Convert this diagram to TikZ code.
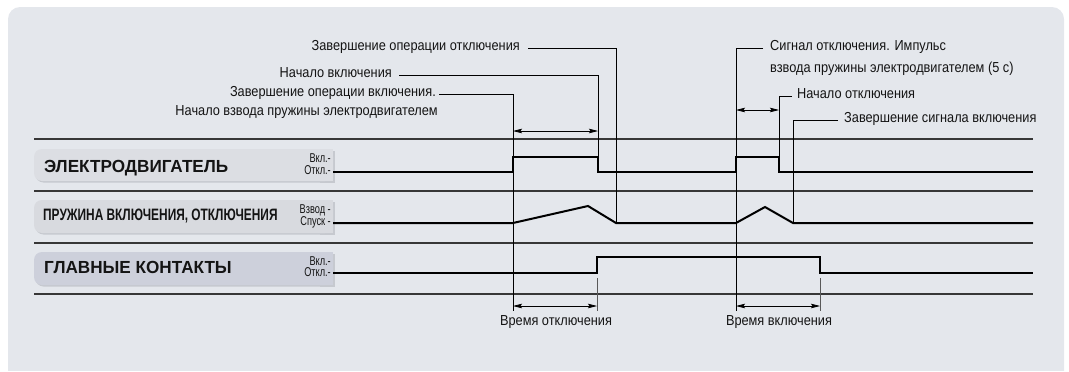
\documentclass[tikz,border=0pt]{standalone}
\usepackage{fontspec}
\usetikzlibrary{arrows.meta}
\setmainfont{Liberation Sans}
\newfontfamily\lblfont[FakeStretch=0.88]{Liberation Sans}
\newfontfamily\ttlfont[FakeStretch=0.98]{Liberation Sans}
\newfontfamily\ttlcnfont[FakeStretch=0.72]{Liberation Sans}
\newfontfamily\smfont[FakeStretch=0.72]{Liberation Sans}
\definecolor{bg}{HTML}{E4E7EC}
\definecolor{boxa}{HTML}{DCDEE3}
\definecolor{boxb}{HTML}{D8DADF}
\definecolor{boxc}{HTML}{CDD0DB}
\definecolor{shad}{HTML}{C6C9CF}
\definecolor{ink}{HTML}{141414}
\tikzset{
  gridline/.style={line width=1.1pt, draw=ink!85},
  sigline/.style={line width=2pt, draw=black, line join=miter},
  vline/.style={line width=0.9pt, draw=black},
  leader/.style={line width=0.9pt, draw=black},
  extline/.style={line width=0.9pt, draw=black!65},
  dimline/.style={line width=0.75pt, draw=black, {Stealth[length=9pt,width=4.5pt,inset=1.5pt]}-{Stealth[length=9pt,width=4.5pt,inset=1.5pt]}},
  txt/.style={font=\lblfont\fontsize{14.5}{16}\selectfont, inner sep=0pt, text=ink},
  smtxt/.style={font=\smfont\fontsize{12.8}{13}\selectfont, inner sep=0pt, text=ink, anchor=mid east},
  ttl/.style={font=\ttlfont\bfseries\fontsize{17.5}{19}\selectfont, inner sep=0pt, text=ink, anchor=mid west},
  ttlcn/.style={font=\ttlcnfont\bfseries\fontsize{16.5}{18}\selectfont, inner sep=0pt, text=ink, anchor=mid west},
}
\begin{document}
\begin{tikzpicture}[x=1pt,y=-1pt]
\useasboundingbox (0,0) rectangle (1069,372);
% background panel
\fill[bg, rounded corners=12pt] (8,7) rectangle (1064,390);
\fill[white] (0,371) rectangle (1069,372);
% label boxes
\foreach \ya/\yb/\col in {149/181/boxa, 200/233/boxb, 252/285/boxc}{
  \fill[shad, rounded corners=8pt] (35.5,\ya+1.5) rectangle (334.5,\yb+1.5);
  \fill[shad] (320,\ya+1.5) rectangle (334.5,\yb+1.5);
  \fill[\col, rounded corners=8pt] (34,\ya) rectangle (333,\yb);
  \fill[\col] (318,\ya) rectangle (333,\yb);
}
% grid lines
\foreach \y in {139,191,243,294}{
  \draw[gridline] (34,\y) -- (1033,\y);
}
% titles
\node[ttl] (motor) at (44,169.8) {ЭЛЕКТРОДВИГАТЕЛЬ};
\node[ttlcn] (spring) at (43,217.6) {ПРУЖИНА ВКЛЮЧЕНИЯ, ОТКЛЮЧЕНИЯ};
\node[ttl] (contacts) at (44,270.6) {ГЛАВНЫЕ КОНТАКТЫ};
% level labels
\node[smtxt] (mon) at (331,160) {Вкл.-};
\node[smtxt] (moff) at (331,171.5) {Откл.-};
\node[smtxt] (scock) at (331,211) {Взвод -};
\node[smtxt] (srel) at (331,222.5) {Спуск -};
\node[smtxt] (con) at (331,262.5) {Вкл.-};
\node[smtxt] (coff) at (331,274) {Откл.-};
% signals
\draw[sigline] (333,172) -- (513,172) -- (513,157) -- (598,157) -- (598,172)
  -- (736,172) -- (736,157) -- (779,157) -- (779,172) -- (1033,172);
\draw[sigline] (333,223) -- (513,223) -- (588,206) -- (616,223)
  -- (736,223) -- (765,207) -- (793,223) -- (1033,223);
\draw[sigline] (333,273) -- (597,273) -- (597,257) -- (820,257) -- (820,273) -- (1033,273);
% top-left labels
\node[txt, anchor=mid east] (endoff) at (520,48) {Завершение операции отключения};
\node[txt, anchor=mid east] (starton) at (392,75) {Начало включения};
\node[txt, anchor=mid east] (endon) at (436,94) {Завершение операции включения.};
\node[txt, anchor=mid east] (startcock) at (438,113) {Начало взвода пружины электродвигателем};
% top-right labels
\node[txt, anchor=mid west] (sigoff) at (770,48) {Сигнал отключения. Импульс};
\node[txt, anchor=mid west] (sigoffb) at (770,70) {взвода пружины электродвигателем (5 с)};
\node[txt, anchor=mid west] (startoff) at (797,96) {Начало отключения};
\node[txt, anchor=mid west] (endsig) at (844,120) {Завершение сигнала включения};
% bottom labels
\node[txt, anchor=mid] (toff) at (556,323) {Время отключения};
\node[txt, anchor=mid] (ton) at (779,323) {Время включения};
% coordinates for verticals
\coordinate (a1) at (513,94);  \coordinate (a2) at (513,311);
\coordinate (b1) at (598,75);  \coordinate (b2) at (598,172);
\coordinate (c1) at (616,48);  \coordinate (c2) at (616,223);
\coordinate (d1) at (736,48);  \coordinate (d2) at (736,311);
\coordinate (e1) at (779,96);  \coordinate (e2) at (779,172);
\coordinate (f1) at (793,120); \coordinate (f2) at (793,223);
% leaders and verticals
\draw[leader] ([xshift=3pt]endon.mid east) -- (a1);
\draw[vline] (a1) -- (a2);
\draw[leader] ([xshift=7pt]starton.mid east) -- (b1);
\draw[vline] (b1) -- (b2);
\draw[leader] ([xshift=8pt]endoff.mid east) -- (c1);
\draw[vline] (c1) -- (c2);
\draw[leader] ([xshift=-7pt]sigoff.mid west) -- (d1);
\draw[vline] (d1) -- (d2);
\draw[leader] ([xshift=-5pt]startoff.mid west) -- (e1);
\draw[vline] (e1) -- (e2);
\draw[leader] ([xshift=-6pt]endsig.mid west) -- (f1);
\draw[vline] (f1) -- (f2);
% extension lines
\coordinate (g1) at (597,278); \coordinate (g2) at (597,311);
\coordinate (h1) at (820,278); \coordinate (h2) at (820,311);
\draw[extline] (g1) -- (g2);
\draw[extline] (h1) -- (h2);
% dimension arrows
\draw[dimline] (513,131) -- (598,131);
\draw[dimline] (736,110) -- (779,110);
\draw[dimline] (513,306) -- (597,306);
\draw[dimline] (736,306) -- (820,306);
\end{tikzpicture}
\end{document}
